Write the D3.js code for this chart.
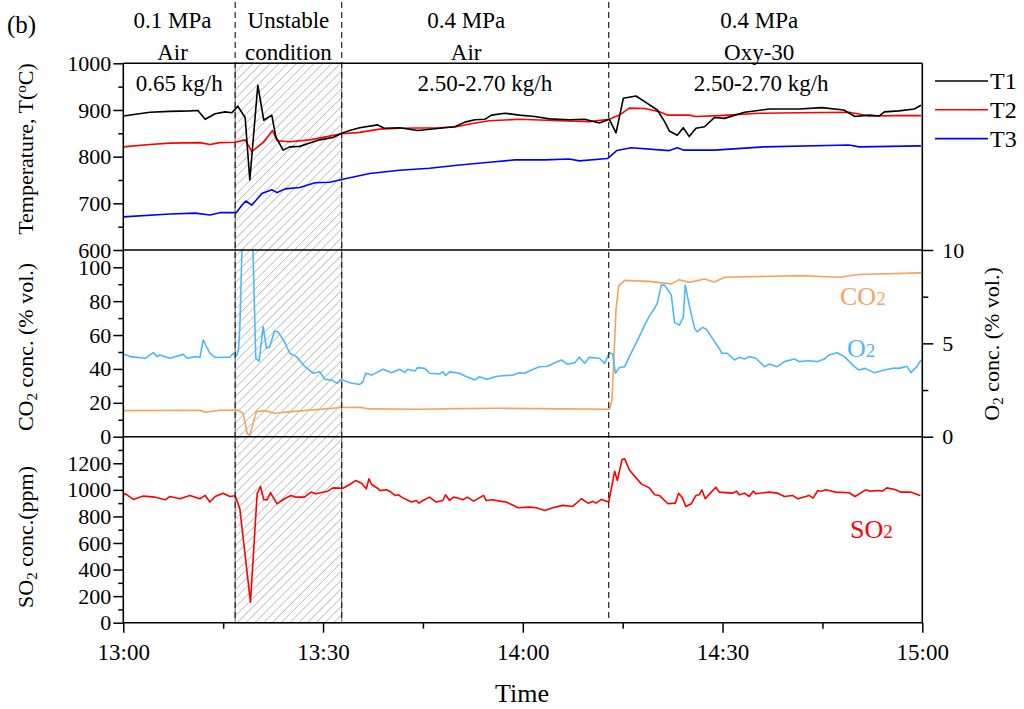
<!DOCTYPE html>
<html><head><meta charset="utf-8">
<script src="https://cdn.jsdelivr.net/npm/d3@7"></script>
<style>body{margin:0;background:#fff} svg text{font-family:"Liberation Serif","Times New Roman",serif !important}</style>
</head><body><svg id="c" width="1024" height="709"></svg>
<script>
// time in minutes after 13:00
const T1 = [[0,887],[4,895],[7,897],[10,898],[11.2,899],[12.3,880],[13.8,892],[15.3,896],[16.3,894],[17.2,908],[18.3,884],[19,750],[20.2,953],[21.1,878],[22.3,889],[22.9,843],[24,814],[25,821],[26.5,822],[28,829],[29.5,836],[31.5,841],[32.8,850],[34,856],[35.5,862],[38.2,868],[39.2,861],[41.5,862],[44.2,856],[47.5,861],[49.8,864],[51.3,874],[52.8,879],[54.3,880],[55.3,889],[57.3,893],[59.5,889],[61.8,886],[64,881],[67,879],[69.3,880],[71.5,872],[73,880],[74,851],[75.1,925],[77,930],[78.3,918],[80.2,900],[81.3,875],[82,855],[83.2,846],[84.1,862],[85,843],[86,861],[87.3,864],[88.8,884],[90.3,882],[93.3,895],[97,902],[101.5,902],[104.9,905],[108.2,900],[109.9,886],[112,889],[113.5,887],[114.3,896],[116.5,898],[118.8,902],[119.8,910]];
const T2 = [[0,821],[4,826],[7,829],[11.5,830],[13,826],[14.5,830],[16.8,831],[18.3,836],[19.3,811],[21,830],[22.4,856],[23.1,834],[25,832],[28,836],[31,844],[32.8,849],[35.5,852],[38.5,859],[41.5,861],[47.5,862],[50,864],[52,870],[55,877],[59.5,880],[65.5,877],[70,875],[73,880],[74.5,889],[76,904],[78.3,903],[80.5,896],[81.7,889],[85,889],[86,886],[89.5,888],[95.5,893],[101.5,894],[109,895],[112,887],[116.5,888],[119.8,888]];
const T3 = [[0,671],[7,677],[10.8,679],[13,675],[14.5,680],[17,680],[17.8,696],[18.4,705],[19.3,696],[20.8,721],[22.3,729],[23.1,723],[24.3,731],[26.5,734],[28.8,744],[31,745],[32.8,751],[37,764],[41.5,771],[46,775],[50.5,782],[55,788],[58.8,793],[63.3,793],[67,795],[68.5,791],[72.7,796],[73,799],[74.1,813],[76.3,819],[82,813],[83.2,819],[84.1,814],[88.8,814],[96.3,821],[109,825],[110.5,821],[119.8,823]];
const CO2 = [[0,15.4],[11.5,15.6],[12.3,14.4],[14.5,15.6],[17.2,15.8],[18,13.8],[18.6,2],[19,0.8],[19.5,8],[20,14.8],[21.2,15.4],[22.8,13.8],[25.3,14.8],[32.8,17.2],[35.5,17.4],[37,16.4],[44.5,16.2],[50.5,16.6],[56.5,16.8],[65.5,16.4],[73,16.2],[73.4,22],[74,75],[74.4,89],[75.3,92.3],[79,91.7],[82.3,90.2],[83.5,92.7],[85,91.1],[87.3,93.1],[88.8,91.3],[90.3,94.1],[101.5,95.1],[107.5,94.1],[110.5,95.7],[119.8,96.7]];
const O2 = [[0,4.43],[1,4.29],[3.3,4.2],[4.5,4.5],[5.1,4.29],[5.5,4.38],[7,4.2],[9,4.41],[9.6,4.2],[10.8,4.29],[11.5,4.24],[12,5.18],[13,4.47],[13.8,4.24],[16,4.26],[16.5,4.47],[17,4.32],[17.3,4.64],[17.5,5.82],[17.9,11],[19.4,11],[19.9,4.2],[20.4,4.05],[21,5.89],[21.5,4.73],[22,4.82],[22.7,5.66],[23.3,5.59],[24.2,5.09],[25,4.47],[26,4.29],[27.3,3.75],[28.5,3.4],[29.5,3.48],[30.3,3.07],[31.3,3.04],[32.1,2.86],[32.8,3.07],[34,2.89],[35.5,2.8],[36,2.95],[36.4,3.4],[37.3,3.3],[39,3.61],[40.3,3.43],[41.5,3.61],[42.3,3.43],[42.7,3.61],[43.8,3.52],[44.2,3.7],[45.3,3.66],[46,3.4],[47.5,3.36],[48,3.48],[48.4,3.27],[49,3.47],[50.5,3.4],[51.3,3.25],[52.8,3.04],[53.5,3.21],[54.6,3.07],[55.8,3.21],[56.5,3.25],[58.5,3.3],[59.5,3.43],[60.3,3.4],[61.3,3.57],[62.5,3.75],[63.7,3.77],[64.8,3.96],[65.8,4.11],[66.7,3.88],[67.8,3.96],[68.5,4.25],[69.3,3.93],[70,4.25],[71.5,4.2],[72.3,3.93],[73,4.5],[73.5,4.43],[73.9,3.4],[74.5,3.7],[75.3,3.75],[76,4.29],[77.5,5.36],[78.3,5.98],[79,6.46],[79.8,6.88],[80.2,7.14],[80.8,8.12],[81.3,8.12],[82.3,7.59],[82.8,6.11],[83.5,5.98],[84.1,6.39],[84.4,8.12],[85,7.05],[85.8,5.8],[86.2,5.62],[87,5.86],[87.6,5.75],[88.8,5.09],[89.5,4.73],[89.9,4.47],[90.7,4.47],[91.8,4.11],[92.5,4.25],[93.3,4.16],[94,4.29],[95,4.2],[96.3,3.75],[97,3.89],[98.2,3.75],[99.3,4.02],[100.8,4.16],[101.5,4.02],[103,4.07],[104.2,4.02],[105.3,4.16],[106,4.38],[107.2,4.5],[108.3,4.29],[109.8,3.75],[110.5,3.57],[111.4,3.66],[112.8,3.43],[114.3,3.57],[115.8,3.68],[116.5,3.66],[117.7,3.77],[118.3,3.43],[119.2,3.77],[119.8,4.11]];
const SO2 = [[0,958],[0.3,971],[1.5,928],[3,953],[4.8,945],[6.3,925],[7,950],[8.5,933],[10,958],[11.5,933],[12.3,958],[13,908],[13.8,950],[15,975],[16,950],[16.8,955],[17.5,858],[19.1,155],[20.1,970],[20.6,1025],[21.1,925],[21.6,925],[22.1,978],[23.1,895],[24.2,933],[25.2,958],[25.9,945],[27.2,945],[28.2,983],[28.9,970],[30.7,990],[31.5,1015],[33,1012],[34,1040],[34.9,1070],[35.8,1050],[36.3,1020],[36.5,1008],[36.9,1083],[37.3,1040],[38.3,1008],[38.5,995],[39.5,1000],[40,990],[40.8,958],[41.3,963],[41.8,945],[42.8,920],[43.3,908],[44,920],[44.4,900],[45,920],[46,945],[47,908],[48,920],[48.4,963],[49,920],[49.6,945],[50.2,938],[51,925],[51.7,945],[52.6,915],[53.4,938],[54.1,958],[54.5,920],[55.5,925],[56.5,915],[57.5,908],[58.3,890],[59.3,865],[61,870],[62,865],[63.3,845],[64.5,865],[66,883],[67.5,875],[68.8,933],[69.8,900],[70.5,913],[71,900],[71.8,928],[72.9,908],[73.8,1140],[74.2,1070],[74.9,1228],[75.3,1233],[76,1150],[77.8,1045],[79,1015],[79.8,963],[80.5,958],[81.8,895],[82.9,900],[83.4,975],[83.9,945],[84.5,875],[85.3,895],[86,958],[86.5,963],[86.9,1000],[87.4,933],[88.3,983],[89,1020],[89.5,983],[91.5,975],[92.1,990],[92.5,963],[93.3,975],[94,950],[94.6,990],[95,970],[97,983],[98.3,975],[99.3,950],[100.5,958],[101.3,933],[103,958],[103.6,938],[104.3,995],[104.8,990],[105.5,1000],[107,983],[109,978],[109.9,950],[111.5,1000],[112.2,990],[113.5,995],[114,990],[114.7,1015],[116,1000],[116.7,983],[118.2,983],[119.7,958]];
const phaseLines = [16.8, 32.8, 72.9];
const unstable = [16.8, 32.8];
const phaseTop = [["0.1 MPa","Air"],["Unstable","condition"],["0.4 MPa","Air"],["0.4 MPa","Oxy-30"]];
const phaseCenter = [7.4, 24.8, 51.5, 95.5];
const feedLabels = ["0.65 kg/h","2.50-2.70 kg/h","2.50-2.70 kg/h"];
const feedCenter = [8.4, 54.3, 95.8];
const xTicks = [0,30,60,90,120], xMinor=[15,45,75,105];
const tTicks=[600,700,800,900,1000], tMinor=[650,750,850,950];
const cTicks=[0,20,40,60,80,100], cMinor=[10,30,50,70,90];
const oTicks=[0,5,10], oMinor=[2.5,7.5];
const sTicks=[0,200,400,600,800,1000,1200], sMinor=[100,300,500,700,900,1100,1300];

const FONT='"Liberation Serif","Times New Roman",serif';
const svg=d3.select('#c').style('font-family',FONT);
const L=123.3,R=922.3, P1=63.3,P2=250,P3=436.7,P4=622.7;
const x=d3.scaleLinear().domain([0,120]).range([L,R]);
const yT=d3.scaleLinear().domain([600,1000]).range([P2,P1]);
const yC=d3.scaleLinear().domain([0,110.2]).range([P3,P2]);
const yO=d3.scaleLinear().domain([0,10]).range([P3,P2]);
const yS=d3.scaleLinear().domain([0,1400]).range([P4,P3]);
const ORANGE='#f5a35f', LBLUE='#4cb8f7';

const defs=svg.append('defs');
const pat=defs.append('pattern').attr('id','hatch').attr('patternUnits','userSpaceOnUse').attr('width',6.2).attr('height',6.2).attr('patternTransform','rotate(45)');
pat.append('line').attr('x1',0).attr('y1',0).attr('x2',0).attr('y2',6.2).attr('stroke','#a8a8a8').attr('stroke-width',1.3);
[['c1',P1,P2],['c2',P2,P3],['c3',P3,P4]].forEach(([id,a,b])=>{
  defs.append('clipPath').attr('id',id).append('rect').attr('x',L).attr('y',a).attr('width',R-L).attr('height',b-a);
});

svg.append('rect').attr('x',x(unstable[0])).attr('y',P1).attr('width',x(unstable[1])-x(unstable[0])).attr('height',P4-P1)
  .attr('fill','url(#hatch)').attr('stroke','#7a7a7a').attr('stroke-width',1.2);

function line(data,y,color,clip){
  svg.append('path').datum(data).attr('clip-path',`url(#${clip})`)
    .attr('d',d3.line().x(d=>x(d[0])).y(d=>y(d[1])))
    .attr('fill','none').attr('stroke',color).attr('stroke-width',1.6).attr('stroke-linejoin','round');
}
line(T3,yT,'#0000ff','c1');
line(T2,yT,'#ff0000','c1');
line(T1,yT,'#000000','c1');
line(CO2,yC,ORANGE,'c2');
line(O2,yO,LBLUE,'c2');
line(SO2,yS,'#ff0000','c3');

svg.selectAll('.ph').data(phaseLines).enter().append('line')
  .attr('x1',d=>x(d)).attr('x2',d=>x(d)).attr('y1',2).attr('y2',P4)
  .attr('stroke','#222').attr('stroke-width',1.2).attr('stroke-dasharray','6,4');

const fr=svg.append('g').attr('stroke','#000').attr('stroke-width',1.6);
[P1,P2,P3,P4].forEach(p=>fr.append('line').attr('x1',L).attr('x2',R).attr('y1',p).attr('y2',p));
fr.append('line').attr('x1',L).attr('x2',L).attr('y1',P1).attr('y2',P4);
fr.append('line').attr('x1',R).attr('x2',R).attr('y1',P1).attr('y2',P4);

function styleAxis(g,fs){
  g.attr('font-family',null).attr('font-size',null);
  g.select('.domain').remove();
  g.selectAll('line').attr('stroke','#000').attr('stroke-width',1.5);
  g.selectAll('text').style('font-size',fs+'px').style('fill','#000').style('font-family',FONT);
}
const nf=d3.format('d');
function leftAxis(y,maj,min){
  svg.append('g').attr('transform',`translate(${L},0)`).call(d3.axisLeft(y).tickValues(maj).tickSize(10).tickPadding(2).tickFormat(nf)).call(g=>styleAxis(g,22));
  svg.append('g').attr('transform',`translate(${L},0)`).call(d3.axisLeft(y).tickValues(min).tickSize(5).tickFormat('')).call(g=>styleAxis(g,22));
}
leftAxis(yT,tTicks,tMinor);
leftAxis(yC,cTicks,cMinor);
leftAxis(yS,sTicks,sMinor);
svg.append('g').attr('transform',`translate(${R},0)`).call(d3.axisRight(yO).tickValues(oTicks).tickSize(11).tickPadding(9).tickFormat(nf)).call(g=>styleAxis(g,22));
svg.append('g').attr('transform',`translate(${R},0)`).call(d3.axisRight(yO).tickValues(oMinor).tickSize(6).tickFormat('')).call(g=>styleAxis(g,22));
const fmt=m=>`${13+Math.floor(m/60)}:${String(m%60).padStart(2,'0')}`;
svg.append('g').attr('transform',`translate(0,${P4})`).call(d3.axisBottom(x).tickValues(xTicks).tickSize(10).tickPadding(11).tickFormat(fmt)).call(g=>styleAxis(g,23));
svg.append('g').attr('transform',`translate(0,${P4})`).call(d3.axisBottom(x).tickValues(xMinor).tickSize(6).tickFormat('')).call(g=>styleAxis(g,23));

phaseTop.forEach((p,i)=>{
  svg.append('text').attr('x',x(phaseCenter[i])).attr('y',28).attr('text-anchor','middle').attr('font-size',23).text(p[0]);
  svg.append('text').attr('x',x(phaseCenter[i])).attr('y',60).attr('text-anchor','middle').attr('font-size',23).text(p[1]);
});
feedLabels.forEach((t,i)=>{
  svg.append('text').attr('x',x(feedCenter[i])).attr('y',91).attr('text-anchor','middle').attr('font-size',23).text(t);
});
svg.append('text').attr('x',7).attr('y',33).attr('font-size',25).text('(b)');

const leg=[['T1','#000'],['T2','#ff0000'],['T3','#0000ff']];
leg.forEach((d,i)=>{
  const yy=81+i*28.8;
  svg.append('line').attr('x1',935).attr('x2',988).attr('y1',yy).attr('y2',yy).attr('stroke',d[1]).attr('stroke-width',1.6);
  svg.append('text').attr('x',990).attr('y',yy+8).attr('font-size',24).text(d[0]);
});

function chem(xp,yp,a,b,color){
  const t=svg.append('text').attr('x',xp).attr('y',yp).attr('font-size',26).style('fill',color);
  t.append('tspan').text(a); t.append('tspan').attr('font-size',19).text(b);
}
chem(840,305,'CO','2',ORANGE);
chem(847,357,'O','2',LBLUE);
chem(850,538,'SO','2','#ff0000');

function vtitle(xp,yp,parts,rot){
  const t=svg.append('text').attr('transform',`translate(${xp},${yp}) rotate(${rot})`).attr('text-anchor','middle').attr('font-size',22);
  parts.forEach(p=>{
    const s=t.append('tspan').text(p[0]);
    if(p[1]==='sub') s.attr('font-size',15).attr('baseline-shift','-25%');
    if(p[1]==='sup') s.attr('font-size',15).attr('baseline-shift','45%');
  });
}
vtitle(33,149,[['Temperature, T('],['o','sup'],['C)']],-90);
vtitle(33,347,[['CO'],['2','sub'],[' conc. (% vol.)']],-90);
vtitle(33,537,[['SO'],['2','sub'],[' conc.(ppm)']],-90);
vtitle(999,344,[['O'],['2','sub'],[' conc. (% vol.)']],-90);
svg.append('text').attr('x',522).attr('y',702).attr('text-anchor','middle').attr('font-size',26).text('Time');
</script></body></html>
